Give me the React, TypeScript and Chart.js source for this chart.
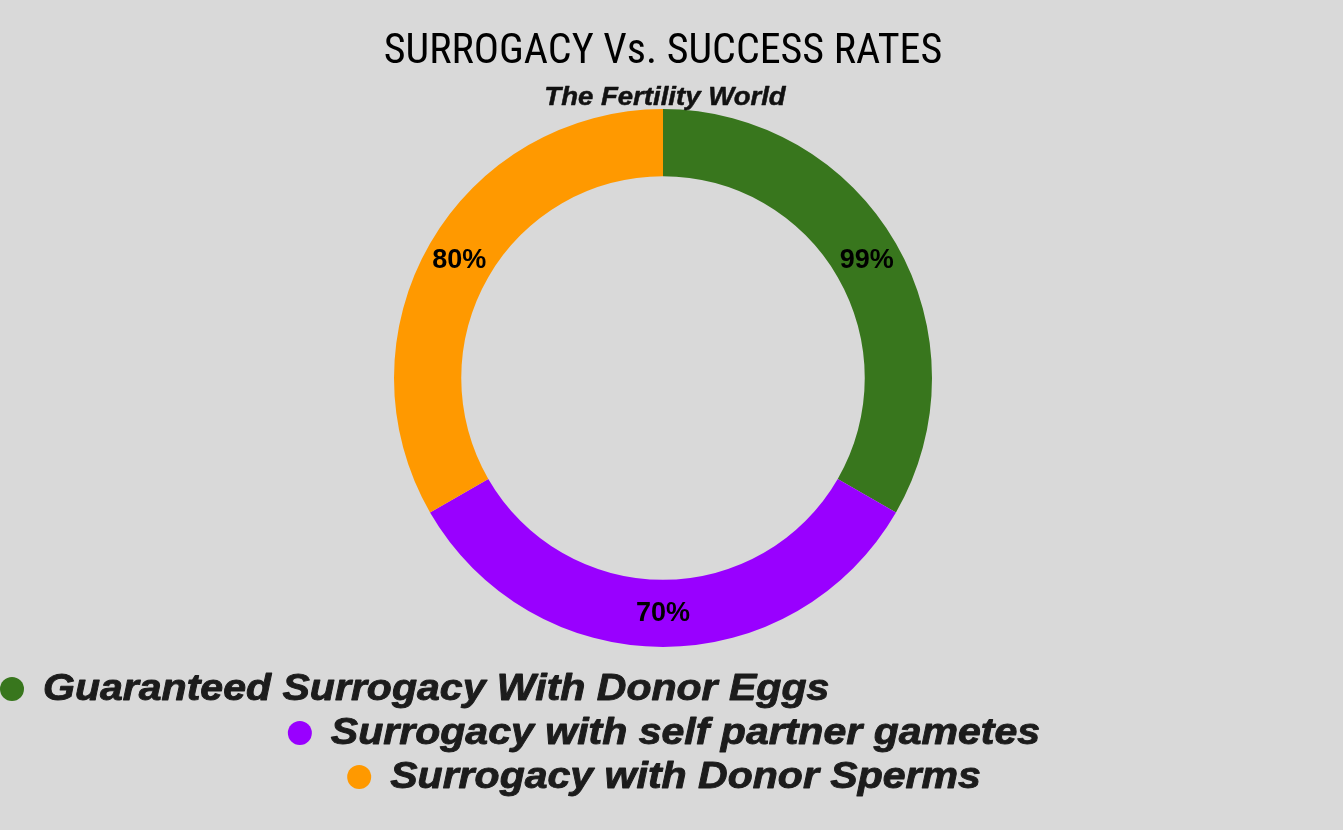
import { useEffect, useRef } from 'react';
import { Chart, registerables } from 'chart.js';

Chart.register(...registerables);

// Programme categories, their reported success rates and each ring slice's share
const categories = [
  'Guaranteed Surrogacy With Donor Eggs',
  'Surrogacy with self partner gametes',
  'Surrogacy with Donor Sperms',
];
const successRates = [99, 70, 80];
const sliceShares = [1, 1, 1];
const sliceColors = ['#38761d', '#9900ff', '#ff9900'];

const chartTitle = 'SURROGACY Vs. SUCCESS RATES';
const chartSubtitle = 'The Fertility World';

const PAGE_BG = '#d9d9d9';
const CANVAS_W = 1326;
const CANVAS_H = 830;
const ARIAL = '"Liberation Sans", Arial, sans-serif';

// Draws heavy text with a horizontal stretch; x is the left edge (or centre when centred)
function drawWideText(
  ctx: CanvasRenderingContext2D,
  text: string,
  x: number,
  y: number,
  stretch: number,
  centred: boolean,
  weightStroke: number,
) {
  const w = ctx.measureText(text).width * stretch;
  const left = centred ? x - w / 2 : x;
  ctx.save();
  ctx.translate(left, y);
  ctx.scale(stretch, 1);
  ctx.textAlign = 'left';
  ctx.fillText(text, 0, 0);
  if (weightStroke > 0) {
    ctx.strokeStyle = ctx.fillStyle as string;
    ctx.lineWidth = weightStroke;
    ctx.lineJoin = 'round';
    ctx.strokeText(text, 0, 0);
  }
  ctx.restore();
  return w;
}

// Italic subtitle under the main title
const subtitlePlugin = {
  id: 'wideSubtitle',
  afterDraw(chart: any) {
    const { ctx } = chart;
    ctx.save();
    ctx.font = `italic bold 26px ${ARIAL}`;
    ctx.fillStyle = '#111111';
    ctx.textBaseline = 'middle';
    drawWideText(ctx, chartSubtitle, chart.width / 2 + 2, 98, 1.06, true, 0.5);
    ctx.restore();
  },
};

// Percentage labels placed at the centre of each ring segment
const sliceLabelPlugin = {
  id: 'sliceLabels',
  afterDatasetsDraw(chart: any) {
    const { ctx } = chart;
    const meta = chart.getDatasetMeta(0);
    ctx.save();
    ctx.font = `bold 27px ${ARIAL}`;
    ctx.fillStyle = '#000000';
    ctx.textAlign = 'center';
    ctx.textBaseline = 'middle';
    meta.data.forEach((arc: any, i: number) => {
      const p = arc.tooltipPosition();
      ctx.fillText(`${successRates[i]}%`, p.x, p.y);
    });
    ctx.restore();
  },
};

// Legend rows beneath the ring: first row flush left, the rest centred
const rowLegendPlugin = {
  id: 'rowLegend',
  afterDraw(chart: any) {
    const { ctx, chartArea } = chart;
    const radius = 12;
    const gap = 19;
    const rowStep = 44;
    const stretch = 1.14;
    ctx.save();
    ctx.font = `italic bold 36px ${ARIAL}`;
    ctx.textBaseline = 'middle';
    categories.forEach((label, i) => {
      const y = chartArea.bottom + 42 + i * rowStep;
      const textW = ctx.measureText(label).width * stretch;
      const itemW = radius * 2 + gap + textW;
      const left = i === 0 ? 0 : chart.width / 2 + 1 - itemW / 2;
      ctx.beginPath();
      ctx.arc(left + radius, y, radius, 0, Math.PI * 2);
      ctx.fillStyle = sliceColors[i];
      ctx.fill();
      ctx.fillStyle = '#1c1c1c';
      drawWideText(ctx, label, left + radius * 2 + gap, y + 1, stretch, false, 0.9);
    });
    ctx.restore();
  },
};

export default function App() {
  const canvasRef = useRef<HTMLCanvasElement | null>(null);

  useEffect(() => {
    if (!canvasRef.current) return;
    const chart = new Chart(canvasRef.current, {
      type: 'doughnut',
      data: {
        labels: categories,
        datasets: [
          {
            data: sliceShares,
            backgroundColor: sliceColors,
            borderWidth: 0,
            hoverOffset: 0,
          },
        ],
      },
      options: {
        responsive: false,
        animation: false,
        cutout: '75%',
        layout: { padding: { top: 0, bottom: 183, left: 0, right: 0 } },
        plugins: {
          legend: { display: false },
          tooltip: { enabled: false },
          title: {
            display: true,
            text: chartTitle,
            color: '#000000',
            font: {
              family: '"Liberation Sans Narrow", "Roboto Condensed", "DejaVu Sans Condensed", sans-serif',
              size: 42,
              weight: 'normal',
              lineHeight: 1,
            },
            padding: { top: 31, bottom: 36 },
          },
          subtitle: { display: false },
        },
      },
      plugins: [sliceLabelPlugin, subtitlePlugin, rowLegendPlugin],
    });
    return () => chart.destroy();
  }, []);

  return (
    <div
      style={{
        position: 'fixed',
        inset: 0,
        background: PAGE_BG,
        overflow: 'hidden',
      }}
    >
      <canvas
        ref={canvasRef}
        width={CANVAS_W}
        height={CANVAS_H}
        style={{ display: 'block', width: CANVAS_W, height: CANVAS_H }}
      />
    </div>
  );
}
